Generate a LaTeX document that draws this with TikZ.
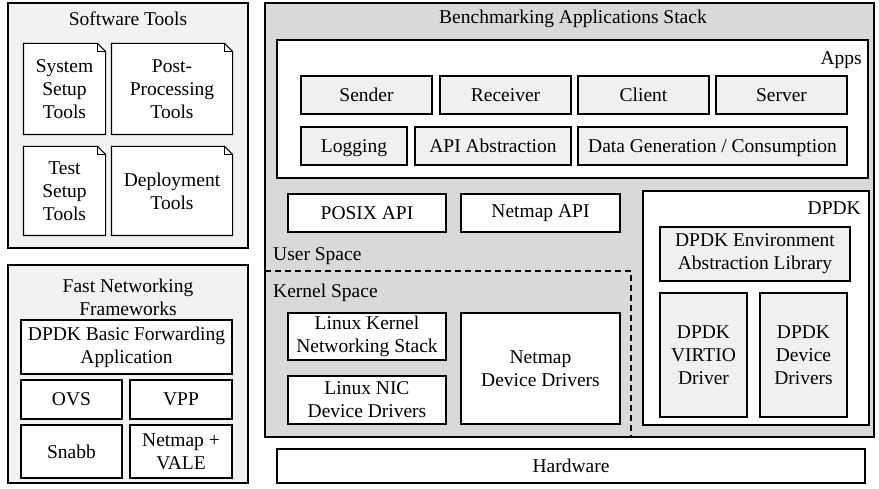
\documentclass[tikz,border=0pt]{standalone}
\usepackage{fontspec}
\setmainfont{Liberation Serif}
\usetikzlibrary{positioning, calc}

\definecolor{stackgray}{gray}{0.85}
\definecolor{panelgray}{gray}{0.95}
\definecolor{itemgray}{gray}{0.94}

\tikzset{
  blk/.style={draw, line width=1.1pt, fill=white, align=center, inner sep=0pt},
  panel/.style={blk, fill=panelgray},
  item/.style={blk, fill=itemgray},
  lbl/.style={inner sep=0pt, align=center},
}

% box by its corners (pixels): style, name, x1, y1, x2, y2, text
\newcommand{\cbox}[7]{%
  \node[#1, minimum width={(#5-#3)*1pt}, minimum height={(#6-#4)*1pt}]
    (#2) at ({(#3+#5)/2},{(#4+#6)/2}) {#7};}

% sheet with a folded corner
\newcommand{\sheet}[6]{%
  \cbox{blk, draw=none}{#1}{#2}{#3}{#4}{#5}{#6}
  \draw[line width=1.1pt] (#1.south west) -- (#1.north west)
    -- ([xshift=-8pt]#1.north east) -- ([yshift=-8pt]#1.north east)
    -- (#1.south east) -- cycle;
  \draw[line width=0.9pt] ([xshift=-8pt]#1.north east)
    -- ([xshift=-8pt, yshift=-8pt]#1.north east) -- ([yshift=-8pt]#1.north east);}

\begin{document}
\begin{tikzpicture}[x=1pt, y=-1pt, font=\rmfamily\fontsize{19.5}{23}\selectfont]
\useasboundingbox (0,0) rectangle (879,489);

% Software tools
\cbox{panel}{swtools}{8}{3}{248}{248}{}
\node[lbl] (swtitle) at (128,19) {Software Tools};
\sheet{syssetup}{24}{44}{105}{134}{System\\Setup\\Tools}
\sheet{postproc}{112}{44}{232}{134}{Post-\\Processing\\Tools}
\sheet{testsetup}{24}{147}{105}{235}{Test\\Setup\\Tools}
\sheet{deploy}{112}{147}{232}{235}{Deployment\\Tools}

% Fast networking frameworks
\cbox{panel}{fastnet}{8}{265}{248}{483}{}
\node[lbl] (fntitle) at (128,297) {Fast Networking\\Frameworks};
\cbox{blk}{dpdkfwd}{21}{320}{232}{374}{DPDK Basic Forwarding\\Application}
\cbox{blk}{ovs}{21}{380}{122}{419}{OVS}
\cbox{blk}{vpp}{130}{380}{232}{419}{VPP}
\cbox{blk}{snabb}{21}{425}{122}{478}{Snabb}
\cbox{blk}{vale}{130}{425}{232}{478}{Netmap +\\VALE}

% Benchmarking applications stack
\cbox{blk, fill=stackgray}{stack}{265}{3}{874}{437}{}
\node[lbl] (sttitle) at (573,19) {Benchmarking Applications Stack};

\cbox{blk}{apps}{277}{40}{868}{178}{}
\node[lbl, anchor=east] (appslbl) at (862,60) {Apps};
\cbox{item}{sender}{301}{76}{432}{114}{Sender}
\cbox{item}{receiver}{440}{76}{571}{114}{Receiver}
\cbox{item}{client}{578}{76}{709}{114}{Client}
\cbox{item}{server}{716}{76}{847}{114}{Server}
\cbox{item}{logging}{301}{127}{407}{165}{\raisebox{0pt}[0.7em][0pt]{Logging}}
\cbox{item}{apiabs}{415}{127}{571}{165}{API Abstraction}
\cbox{item}{datagen}{578}{127}{847}{165}{\raisebox{0pt}[0.7em][0pt]{Data Generation / Consumption}}

\cbox{blk}{posix}{288}{194}{446}{232}{POSIX API}
\cbox{blk}{netmapapi}{461}{194}{620}{232}{Netmap API}

% user / kernel split
\node[lbl, anchor=west] (userlbl) at (273,256) {User Space};
\node[lbl, anchor=west] (kernlbl) at (273,293) {Kernel Space};
\coordinate (splitl) at (265,271);
\coordinate (splitc) at (631,271);
\coordinate (splitb) at (631,437);
\draw[line width=1.1pt, dash pattern=on 6pt off 4pt] (splitl) -- (splitc) -- (splitb);

\cbox{blk}{linstack}{288}{313}{446}{360}{Linux Kernel\\Networking Stack}
\cbox{blk}{linnic}{288}{376}{446}{424}{Linux NIC\\Device Drivers}
\cbox{blk}{netmapdrv}{461}{313}{620}{424}{Netmap\\Device Drivers}

% DPDK
\cbox{blk}{dpdk}{643}{191}{869}{425}{}
\node[lbl, anchor=east] (dpdklbl) at (861,208) {DPDK};
\cbox{item}{eal}{660}{227}{850}{281}{DPDK Environment\\Abstraction Library}
\cbox{item}{virtio}{660}{293}{747}{417}{DPDK\\VIRTIO\\Driver}
\cbox{item}{dpdkdrv}{760}{293}{847}{417}{DPDK\\Device\\Drivers}

% Hardware
\cbox{blk}{hw}{277}{449}{865}{483}{Hardware}
\end{tikzpicture}
\end{document}
